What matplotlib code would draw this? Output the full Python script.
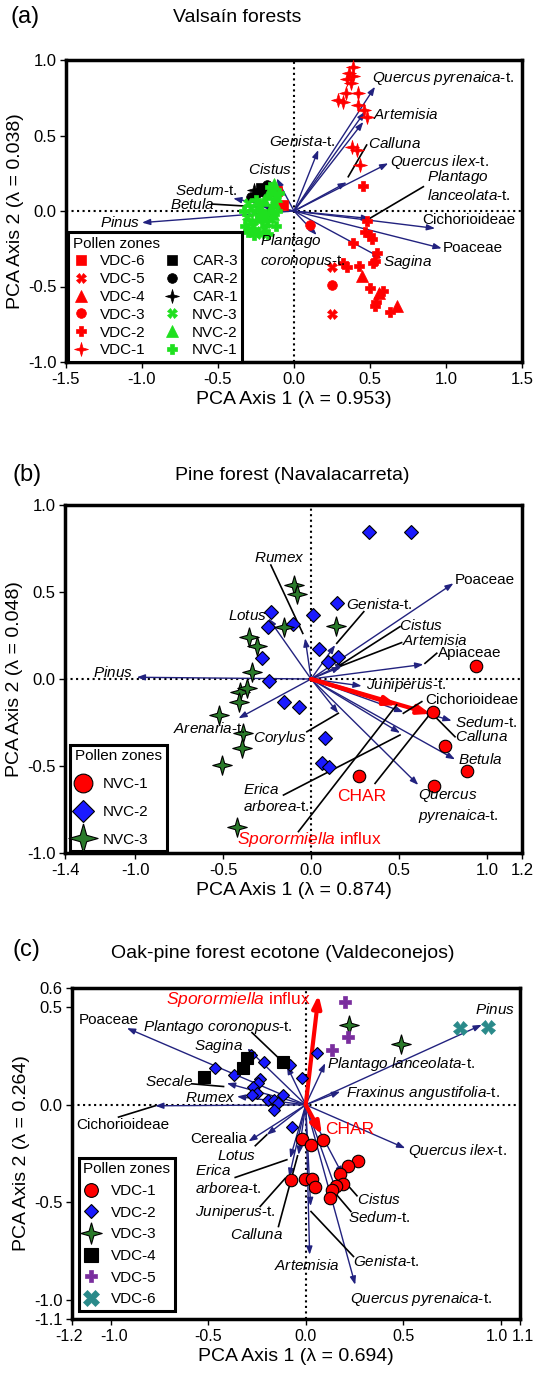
import matplotlib
matplotlib.use("Agg")
import matplotlib.pyplot as plt
from matplotlib.ticker import FormatStrFormatter
from matplotlib.transforms import ScaledTranslation

plt.rcParams["font.family"] = ["Liberation Sans", "DejaVu Sans"]
plt.rcParams["mathtext.fontset"] = "custom"
plt.rcParams["mathtext.rm"] = "Liberation Sans"
plt.rcParams["mathtext.it"] = "Liberation Sans:italic"
plt.rcParams["axes.unicode_minus"] = False

NAVY = "#22227f"
RED = "#ff0000"
LIME = "#1fe01f"
DKGREEN = "#2a7a2a"
BLUE = "#1a1aff"
PURPLE = "#7a2e9e"
TEAL = "#2a8a8a"
STAR4 = [(0, 1), (0.22, 0.22), (1, 0), (0.22, -0.22), (0, -1),
         (-0.22, -0.22), (-1, 0), (-0.22, 0.22), (0, 1)]

# ---------------- panel (a): Valsain forests ----------------
A_ARROW_X = [0.533, 0.467, 0.456, 0.160, 0.620, 0.347, -0.114, -0.400, -0.220,
             -1.000, 0.500, 0.928, 0.972, 0.577, 0.149]
A_ARROW_Y = [0.823, 0.658, 0.590, 0.404, 0.316, 0.190, 0.216, 0.084, 0.035,
             -0.077, -0.050, -0.115, -0.247, -0.313, -0.159]

A_LABELS = ["*Quercus pyrenaica*-t.", "*Artemisia*", "*Genista*-t.", "*Calluna*",
            "*Quercus ilex*-t.", "*Plantago*\n*lanceolata*-t.", "*Cistus*", "*Sedum*-t.",
            "*Betula*", "*Pinus*", "Cichorioideae", "Poaceae", "*Sagina*",
            "*Plantago*\n*coronopus*-t."]
A_LABEL_X = [0.510, 0.522, -0.162, 0.489, 0.632, 0.873, -0.300, -0.783, -0.816,
             -1.276, 0.847, 0.978, 0.583, -0.224]
A_LABEL_Y = [0.879, 0.636, 0.459, 0.444, 0.327, 0.168, 0.276, 0.139, 0.046,
             -0.077, -0.060, -0.247, -0.336, -0.265]

A_LEADERS = [((0.478, 0.437), (0.357, 0.227)),
             ((0.851, 0.161), (0.500, -0.048)),
             ((-0.541, 0.046), (-0.245, 0.028))]

A_VDC1_X = [0.391, 0.364, 0.386, 0.347, 0.373, 0.342, 0.423, 0.292, 0.325, 0.423,
            0.461, 0.478, 0.380, 0.412, 0.434]
A_VDC1_Y = [0.956, 0.912, 0.894, 0.872, 0.850, 0.779, 0.779, 0.735, 0.724, 0.702,
            0.669, 0.625, 0.422, 0.404, 0.305]
A_VDC2_X = [0.456, 0.478, 0.467, 0.500, 0.511, 0.390, 0.544, 0.522, 0.530, 0.324,
            0.347, 0.430, 0.500, 0.584, 0.533, 0.632, 0.540]
A_VDC2_Y = [0.166, -0.064, -0.137, -0.159, -0.187, -0.214, -0.276, -0.346, -0.330,
            -0.346, -0.369, -0.364, -0.512, -0.528, -0.629, -0.667, -0.600]
A_VDC3_X = [0.105, 0.248]
A_VDC3_Y = [-0.090, -0.490]
A_VDC4_X = [0.445, 0.561, 0.676]
A_VDC4_Y = [-0.430, -0.541, -0.629]
A_VDC5_X = [0.248, 0.248]
A_VDC5_Y = [-0.370, -0.682]
A_VDC6_X = [-0.070, -0.110]
A_VDC6_Y = [0.040, 0.130]
A_CAR3_X = [-0.220]
A_CAR3_Y = [0.150]
A_CAR2_X = [-0.180, -0.245, -0.200, -0.280]
A_CAR2_Y = [0.170, 0.117, 0.128, 0.095]
A_CAR1_X = [-0.170, -0.260]
A_CAR1_Y = [-0.015, 0.140]
A_NVC3_X = [-0.30, -0.28, -0.26, -0.31, -0.29, -0.27, -0.25, -0.22, -0.20, -0.18, -0.16]
A_NVC3_Y = [0.05, 0.02, -0.01, -0.04, -0.07, -0.10, -0.13, -0.15, -0.12, -0.08, -0.05]
A_NVC2_X = [-0.14, -0.15, -0.13, -0.12, -0.14, -0.13, -0.17, -0.20, -0.23, -0.22, -0.24]
A_NVC2_Y = [-0.02, 0.02, 0.06, 0.10, 0.14, 0.18, 0.11, 0.07, 0.04, 0.00, -0.04]
A_NVC1_X = [-0.21, -0.19, -0.33, -0.32, -0.30, -0.26, -0.17, -0.12, -0.11, -0.25, -0.16, -0.10]
A_NVC1_Y = [-0.06, -0.02, 0.00, -0.10, -0.14, -0.16, -0.15, -0.10, 0.00, 0.07, 0.16, 0.12]

# ---------------- panel (b): Navalacarreta ----------------
B_ARROW_X = [0.810, -0.034, -0.243, 0.137, 0.190, 0.170, 0.639, -0.992, 0.288, 0.525,
             0.800, 0.715, 0.819, 0.610, 0.506, 0.155, -0.413]
B_ARROW_Y = [0.550, 0.234, 0.349, 0.195, 0.090, 0.070, 0.084, 0.010, -0.040, -0.190,
             -0.240, -0.216, -0.462, -0.609, -0.310, -0.197, -0.226]
B_RED_X = [0.680, 0.490]
B_RED_Y = [-0.200, -0.150]

B_LABELS = ["*Rumex*", "*Lotus*", "*Genista*-t.", "Poaceae", "*Cistus*", "*Artemisia*",
            "Apiaceae", "*Pinus*", "*Juniperus*-t.", "Cichorioideae", "*Sedum*-t.",
            "*Calluna*", "*Betula*", "*Quercus*\n*pyrenaica*-t.", "*Corylus*",
            "*Erica*\n*arborea*-t."]
B_LABEL_X = [-0.324, -0.470, 0.199, 0.819, 0.502, 0.516, 0.724, -1.238, 0.313, 0.648,
             0.819, 0.819, 0.838, 0.610, -0.328, -0.385]
B_LABEL_Y = [0.694, 0.362, 0.429, 0.569, 0.305, 0.220, 0.148, 0.036, -0.034, -0.121,
             -0.251, -0.331, -0.462, -0.729, -0.341, -0.684]
B_RIGHT_LABELS = ["*Arenaria*-t."]
B_RIGHT_X = [-0.375]
B_RIGHT_Y = [-0.283]
B_RED_LABELS = ["CHAR", "*Sporormiella* influx"]
B_RED_LABEL_X = [0.146, -0.423]
B_RED_LABEL_Y = [-0.676, -0.925]

B_LEADERS = [((-0.229, 0.655), (-0.047, 0.262)),
             ((0.300, 0.387), (0.146, 0.205)),
             ((0.506, 0.301), (0.165, 0.080)),
             ((0.515, 0.209), (0.171, 0.075)),
             ((0.715, 0.148), (0.648, 0.090)),
             ((0.630, -0.130), (0.525, -0.197)),
             ((0.819, -0.332), (0.696, -0.207)),
             ((-0.157, -0.667), (0.506, -0.322)),
             ((-0.024, -0.303), (0.155, -0.197)),
             ((-0.072, -0.877), (0.487, -0.149)),
             ((0.364, -0.600), (0.670, -0.210))]

B_NVC1_X = [0.939, 0.696, 0.762, 0.889, 0.273, 0.700]
B_NVC1_Y = [0.075, -0.192, -0.383, -0.529, -0.557, -0.615]
B_NVC2_X = [0.332, 0.567, 0.150, -0.229, 0.013, -0.243, -0.101, 0.047, 0.155, 0.098,
            -0.280, -0.237, -0.154, -0.067, 0.080, 0.061, 0.104]
B_NVC2_Y = [0.847, 0.847, 0.435, 0.387, 0.368, 0.301, 0.314, 0.171, 0.128, 0.100,
            0.119, -0.010, -0.134, -0.163, -0.337, -0.481, -0.508]
B_NVC3_X = [-0.097, -0.078, -0.154, -0.351, -0.309, 0.142, -0.337, -0.404, -0.366,
            -0.408, -0.522, -0.389, -0.394, -0.508, -0.423]
B_NVC3_Y = [0.540, 0.489, 0.297, 0.243, 0.190, 0.305, 0.042, -0.073, -0.054,
            -0.130, -0.207, -0.309, -0.398, -0.494, -0.849]

# ---------------- panel (c): Valdeconejos ----------------
C_ARROW_X = [-0.918, 0.904, 0.100, -0.300, -0.097, -0.405, -0.353, -0.773, 0.177, 0.511,
             -0.294, -0.200, -0.080, -0.085, -0.037, 0.020, 0.025, 0.254, 0.190, 0.160]
C_ARROW_Y = [0.394, 0.411, 0.214, 0.290, 0.200, 0.111, 0.043, -0.005, 0.068, -0.223,
             -0.188, -0.154, -0.274, -0.370, -0.257, -0.770, -0.520, -0.924, -0.360, -0.450]
C_RED_X = [0.066, 0.083]
C_RED_Y = [0.565, -0.154]

C_LABELS = ["*Pinus*", "Poaceae", "*Plantago coronopus*-t.", "*Sagina*",
            "*Plantago lanceolata*-t.", "*Secale*", "*Fraxinus angustifolia*-t.", "*Rumex*",
            "Cichorioideae", "Cerealia", "*Quercus ilex*-t.", "*Lotus*",
            "*Erica*\n*arborea*-t.", "*Cistus*", "*Juniperus*-t.", "*Sedum*-t.", "*Calluna*",
            "*Artemisia*", "*Genista*-t.", "*Quercus pyrenaica*-t."]
C_LABEL_X = [0.870, -1.166, -0.833, -0.576, 0.109, -0.824, 0.208, -0.619, -1.178, -0.593,
             0.523, -0.456, -0.567, 0.263, -0.567, 0.215, -0.388, -0.165, 0.242, 0.228]
C_LABEL_Y = [0.488, 0.437, 0.402, 0.303, 0.211, 0.120, 0.060, 0.034, -0.103, -0.176,
             -0.235, -0.262, -0.383, -0.484, -0.553, -0.577, -0.668, -0.827, -0.805, -0.998]
C_RED_LABELS = ["*Sporormiella* influx", "CHAR"]
C_RED_LABEL_X = [-0.716, 0.100]
C_RED_LABEL_Y = [0.539, -0.125]

C_LEADERS = [((-0.276, 0.371), (-0.097, 0.200)),
             ((-0.585, 0.108), (-0.422, 0.094)),
             ((-0.961, -0.063), (-0.773, -0.005)),
             ((-0.259, -0.210), (-0.200, -0.154)),
             ((-0.362, -0.373), (-0.097, -0.282)),
             ((-0.234, -0.522), (-0.105, -0.377)),
             ((-0.140, -0.625), (-0.042, -0.262)),
             ((0.263, -0.467), (0.191, -0.385)),
             ((0.232, -0.548), (0.163, -0.467)),
             ((0.245, -0.779), (0.027, -0.548))]

C_VDC1_X = [-0.020, 0.027, 0.088, 0.268, 0.215, 0.177, 0.191, 0.157, 0.134, 0.126,
            -0.076, -0.003, 0.032, 0.049]
C_VDC1_Y = [-0.176, -0.205, -0.183, -0.291, -0.313, -0.356, -0.407, -0.416, -0.437,
            -0.479, -0.385, -0.382, -0.382, -0.423]
C_VDC2_X = [0.057, -0.020, -0.281, -0.213, -0.465, -0.370, -0.083, -0.237, -0.247,
            -0.271, -0.251, -0.276, -0.196, -0.165, -0.117, -0.140, -0.165, -0.071]
C_VDC2_Y = [0.265, 0.137, 0.257, 0.219, 0.188, 0.154, 0.205, 0.132, 0.111, 0.091,
            0.060, 0.051, 0.026, 0.026, 0.051, 0.009, -0.026, -0.116]
C_VDC3_X = [0.220, 0.489]
C_VDC3_Y = [0.411, 0.313]
C_VDC4_X = [-0.117, -0.302, -0.322, -0.521]
C_VDC4_Y = [0.222, 0.240, 0.190, 0.145]
C_VDC5_X = [0.203, 0.215, 0.134]
C_VDC5_Y = [0.526, 0.348, 0.282]
C_VDC6_X = [0.793, 0.938]
C_VDC6_Y = [0.394, 0.402]


def rich(s):
    parts = s.split("*")
    out = ""
    for i, p in enumerate(parts):
        if i % 2 == 1:
            out += r"$\mathit{" + p.replace(" ", r"\ ") + "}$"
        else:
            out += p
    return out


def setup_axes(ax, xlim, ylim, xticks, yticks, xlabel, ylabel, xtick_size=12):
    ax.set_xlim(*xlim)
    ax.set_ylim(*ylim)
    ax.set_xticks(xticks)
    ax.set_yticks(yticks)
    ax.xaxis.set_major_formatter(FormatStrFormatter("%.1f"))
    ax.yaxis.set_major_formatter(FormatStrFormatter("%.1f"))
    ax.tick_params(direction="out", length=4, width=1, labelsize=12, pad=3)
    ax.tick_params(axis="x", labelsize=xtick_size)
    for sp in ax.spines.values():
        sp.set_linewidth(2.5)
    ax.set_xlabel(xlabel, fontsize=14, labelpad=3)
    ax.set_ylabel(ylabel, fontsize=14, labelpad=3)
    ax.axhline(0, color="black", ls=":", lw=1.5, zorder=1)
    ax.axvline(0, color="black", ls=":", lw=1.5, zorder=1)


def draw_arrows(ax, xs, ys, color, lw, scale):
    for x, y in zip(xs, ys):
        ax.annotate("", xy=(x, y), xytext=(0, 0), zorder=2,
                    arrowprops=dict(arrowstyle="-|>,head_length=0.6,head_width=0.22",
                                    color=color, lw=lw, mutation_scale=scale,
                                    shrinkA=0, shrinkB=0))


def draw_leaders(ax, leaders):
    for (x0, y0), (x1, y1) in leaders:
        ax.plot([x0, x1], [y0, y1], color="black", lw=1.2, zorder=3)


def draw_labels(ax, labels, xs, ys, color="black", size=11, ha="left"):
    for s, x, y in zip(labels, xs, ys):
        ax.text(x, y, rich(s), ha=ha, va="center", fontsize=size, color=color, zorder=6)


def pts(ax, xs, ys, marker, color, ms, label, edge=None, mew=0.8):
    (h,) = ax.plot(xs, ys, ls="none", marker=marker, ms=ms, color=color,
                   markeredgecolor=edge if edge else color, markeredgewidth=mew if edge else 0.5,
                   label=label, zorder=4)
    return h


def legend(ax, handles, ncol, anchor, markerscale=1.0, spacing=0.25, fontsize=11):
    leg = ax.legend(handles=handles, loc="lower left", bbox_to_anchor=anchor, ncol=ncol,
                    title="Pollen zones", alignment="left", fontsize=fontsize,
                    title_fontsize=fontsize, frameon=True, fancybox=False, framealpha=1,
                    edgecolor="black", borderaxespad=0, handlelength=1.0, handletextpad=0.8,
                    columnspacing=1.2, labelspacing=spacing, borderpad=0.3,
                    markerscale=markerscale)
    leg.get_frame().set_linewidth(2.2)
    leg.set_zorder(10)
    return leg


fig = plt.figure(figsize=(5.36, 13.79), dpi=100)
W, H = 536.0, 1379.0

# ---- (a)
ax = fig.add_axes([66 / W, 1 - 362 / H, 456 / W, 302 / H])
setup_axes(ax, (-1.5, 1.5), (-1.0, 1.0), [-1.5, -1, -0.5, 0, 0.5, 1, 1.5],
           [-1, -0.5, 0, 0.5, 1], "PCA Axis 1 (λ = 0.953)", "PCA Axis 2 (λ = 0.038)")
draw_arrows(ax, A_ARROW_X, A_ARROW_Y, NAVY, 1.0, 8)
draw_leaders(ax, A_LEADERS)
handles = [
    pts(ax, A_VDC6_X, A_VDC6_Y, "s", RED, 7, "VDC-6"),
    pts(ax, A_VDC5_X, A_VDC5_Y, "X", RED, 7, "VDC-5"),
    pts(ax, A_VDC4_X, A_VDC4_Y, "^", RED, 8, "VDC-4"),
    pts(ax, A_VDC3_X, A_VDC3_Y, "o", RED, 7, "VDC-3"),
    pts(ax, A_VDC2_X, A_VDC2_Y, "P", RED, 7, "VDC-2"),
    pts(ax, A_VDC1_X, A_VDC1_Y, STAR4, RED, 10, "VDC-1"),
    pts(ax, A_CAR3_X, A_CAR3_Y, "s", "black", 7, "CAR-3"),
    pts(ax, A_CAR2_X, A_CAR2_Y, "o", "black", 7, "CAR-2"),
    pts(ax, A_CAR1_X, A_CAR1_Y, STAR4, "black", 10, "CAR-1"),
    pts(ax, A_NVC3_X, A_NVC3_Y, "X", LIME, 7, "NVC-3"),
    pts(ax, A_NVC2_X, A_NVC2_Y, "^", LIME, 8, "NVC-2"),
    pts(ax, A_NVC1_X, A_NVC1_Y, "P", LIME, 7, "NVC-1"),
]
draw_labels(ax, A_LABELS, A_LABEL_X, A_LABEL_Y)
legend(ax, handles, 2, (0.005, 0.0))
fig.text(10 / W, 1 - 17 / H, "(a)", fontsize=17, va="center", ha="left")
fig.text(237 / W, 1 - 17 / H, "Valsaín forests", fontsize=14, va="center", ha="center")

# ---- (b)
ax = fig.add_axes([65 / W, 1 - 853 / H, 457 / W, 348 / H])
setup_axes(ax, (-1.4, 1.2), (-1.0, 1.0), [-1.4, -1, -0.5, 0, 0.5, 1, 1.2],
           [-1, -0.5, 0, 0.5, 1], "PCA Axis 1 (λ = 0.874)", "PCA Axis 2 (λ = 0.048)")
draw_arrows(ax, B_ARROW_X, B_ARROW_Y, NAVY, 1.0, 8)
draw_arrows(ax, B_RED_X, B_RED_Y, RED, 3.0, 12)
draw_leaders(ax, B_LEADERS)
handles = [
    pts(ax, B_NVC1_X, B_NVC1_Y, "o", RED, 9, "NVC-1", edge="black"),
    pts(ax, B_NVC2_X, B_NVC2_Y, "D", BLUE, 7.5, "NVC-2", edge="black"),
    pts(ax, B_NVC3_X, B_NVC3_Y, STAR4, DKGREEN, 14, "NVC-3", edge="black"),
]
draw_labels(ax, B_LABELS, B_LABEL_X, B_LABEL_Y)
draw_labels(ax, B_RIGHT_LABELS, B_RIGHT_X, B_RIGHT_Y, ha="right")
draw_labels(ax, B_RED_LABELS, B_RED_LABEL_X, B_RED_LABEL_Y, color=RED, size=12.5)
legend(ax, handles, 1, (0.012, 0.005), markerscale=1.5, spacing=0.9)
fig.text(12 / W, 1 - 475 / H, "(b)", fontsize=17, va="center", ha="left")
fig.text(292 / W, 1 - 475 / H, "Pine forest (Navalacarreta)", fontsize=14, va="center", ha="center")

# ---- (c)
ax = fig.add_axes([72 / W, 1 - 1319 / H, 448 / W, 331 / H])
setup_axes(ax, (-1.2, 1.1), (-1.1, 0.6), [-1.2, -1, -0.5, 0, 0.5, 1, 1.1],
           [-1.1, -1, -0.5, 0, 0.5, 0.6], "PCA Axis 1 (λ = 0.694)", "PCA Axis 2 (λ = 0.264)",
           xtick_size=11.5)
# nudge the crowded end labels apart a little, as in the original
fig.canvas.draw()
xt = ax.get_xticklabels()
for lab, dx in ((xt[0], -3), (xt[1], 3), (xt[-2], -4), (xt[-1], 3)):
    lab.set_transform(lab.get_transform() + ScaledTranslation(dx / 100, 0, fig.dpi_scale_trans))
draw_arrows(ax, C_ARROW_X, C_ARROW_Y, NAVY, 1.0, 8)
draw_arrows(ax, C_RED_X, C_RED_Y, RED, 3.0, 12)
draw_leaders(ax, C_LEADERS)
handles = [
    pts(ax, C_VDC1_X, C_VDC1_Y, "o", RED, 9, "VDC-1", edge="black"),
    pts(ax, C_VDC2_X, C_VDC2_Y, "D", BLUE, 6.5, "VDC-2", edge="black"),
    pts(ax, C_VDC3_X, C_VDC3_Y, STAR4, DKGREEN, 14, "VDC-3", edge="black"),
    pts(ax, C_VDC4_X, C_VDC4_Y, "s", "black", 9, "VDC-4", edge="black"),
    pts(ax, C_VDC5_X, C_VDC5_Y, "P", PURPLE, 8, "VDC-5"),
    pts(ax, C_VDC6_X, C_VDC6_Y, "X", TEAL, 10, "VDC-6"),
]
draw_labels(ax, C_LABELS, C_LABEL_X, C_LABEL_Y)
draw_labels(ax, C_RED_LABELS, C_RED_LABEL_X, C_RED_LABEL_Y, color=RED, size=12.5)
legend(ax, handles, 1, (0.015, 0.025), markerscale=1.1, spacing=0.5)
fig.text(12 / W, 1 - 950 / H, "(c)", fontsize=17, va="center", ha="left")
fig.text(283 / W, 1 - 953 / H, "Oak-pine forest ecotone (Valdeconejos)", fontsize=14,
         va="center", ha="center")

fig.savefig("out.png", dpi=100)
